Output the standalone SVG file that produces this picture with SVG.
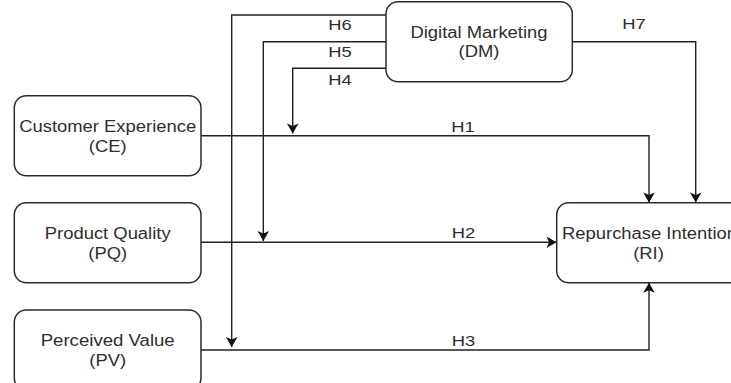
<svg xmlns="http://www.w3.org/2000/svg" width="731" height="383" viewBox="0 0 731 383">
  <style>
    .box { fill: #ffffff; stroke: #2b2b2b; stroke-width: 1.5; }
    .lbl { font-family: "Liberation Sans", Arial, sans-serif; font-size: 16px; fill: #2e2e2e; text-anchor: middle; }
    .hyp { font-family: "Liberation Sans", Arial, sans-serif; font-size: 15.5px; fill: #2e2e2e; text-anchor: middle; }
    .edge { fill: none; stroke: #222222; stroke-width: 1.4; }
  </style>
  <defs>
    <marker id="arrow" viewBox="-11 -7 12 14" refX="0" refY="0" markerWidth="12" markerHeight="14" markerUnits="userSpaceOnUse" orient="auto">
      <path d="M0,0 L-10,-5.8 L-7.5,0 L-10,5.8 Z" fill="#111111"/>
    </marker>
  </defs>
  <rect width="731" height="383" fill="#ffffff"/>

  <!-- connectors -->
  <g id="connectors">
    <!-- H1: CE -> RI -->
    <path class="edge" d="M201,135.7 H649 V202.5" marker-end="url(#arrow)"/>
    <!-- H2: PQ -> RI -->
    <path class="edge" d="M201,242.3 H556.5" marker-end="url(#arrow)"/>
    <!-- H3: PV -> RI -->
    <path class="edge" d="M201,350 H649 V282.8" marker-end="url(#arrow)"/>
    <!-- H4: DM moderates CE path -->
    <path class="edge" d="M386,68.3 H292.7 V133.5" marker-end="url(#arrow)"/>
    <!-- H5: DM moderates PQ path -->
    <path class="edge" d="M386,41.7 H263.3 V241" marker-end="url(#arrow)"/>
    <!-- H6: DM moderates PV path -->
    <path class="edge" d="M386,15 H231.7 V347" marker-end="url(#arrow)"/>
    <!-- H7: DM -> RI -->
    <path class="edge" d="M572.3,41.7 H695.7 V202.5" marker-end="url(#arrow)"/>

    <text class="hyp" x="340" y="30" textLength="23.5" lengthAdjust="spacingAndGlyphs">H6</text>
    <text class="hyp" x="340" y="56.5" textLength="23.5" lengthAdjust="spacingAndGlyphs">H5</text>
    <text class="hyp" x="340" y="85" textLength="23.5" lengthAdjust="spacingAndGlyphs">H4</text>
    <text class="hyp" x="634" y="29" textLength="23.5" lengthAdjust="spacingAndGlyphs">H7</text>
    <text class="hyp" x="463" y="132" textLength="23.5" lengthAdjust="spacingAndGlyphs">H1</text>
    <text class="hyp" x="463.5" y="237.7" textLength="23.5" lengthAdjust="spacingAndGlyphs">H2</text>
    <text class="hyp" x="463.5" y="346" textLength="23.5" lengthAdjust="spacingAndGlyphs">H3</text>
  </g>

  <g id="node-dm">
    <rect class="box" x="386" y="1.7" width="186.3" height="80" rx="12"/>
    <text class="lbl" x="479" y="37.7" textLength="137" lengthAdjust="spacingAndGlyphs">Digital Marketing</text>
    <text class="lbl" x="479" y="57" textLength="40.9" lengthAdjust="spacingAndGlyphs">(DM)</text>
  </g>

  <g id="node-ce">
    <rect class="box" x="14.3" y="95.7" width="186.7" height="80" rx="12"/>
    <text class="lbl" x="107.7" y="132" textLength="177" lengthAdjust="spacingAndGlyphs">Customer Experience</text>
    <text class="lbl" x="107.7" y="151.5" textLength="37.8" lengthAdjust="spacingAndGlyphs">(CE)</text>
  </g>

  <g id="node-pq">
    <rect class="box" x="14.3" y="202.7" width="186.7" height="80" rx="12"/>
    <text class="lbl" x="107.7" y="239.3" textLength="125.8" lengthAdjust="spacingAndGlyphs">Product Quality</text>
    <text class="lbl" x="107.7" y="258.5" textLength="38.8" lengthAdjust="spacingAndGlyphs">(PQ)</text>
  </g>

  <g id="node-pv">
    <rect class="box" x="14.3" y="310" width="186.7" height="80" rx="12"/>
    <text class="lbl" x="107.7" y="346" textLength="134" lengthAdjust="spacingAndGlyphs">Perceived Value</text>
    <text class="lbl" x="107.7" y="365.5" textLength="36.8" lengthAdjust="spacingAndGlyphs">(PV)</text>
  </g>

  <g id="node-ri">
    <rect class="box" x="556.7" y="202.7" width="186" height="80" rx="12"/>
    <text class="lbl" x="649.5" y="239.3" textLength="175" lengthAdjust="spacingAndGlyphs">Repurchase Intention</text>
    <text class="lbl" x="648.5" y="258.5" textLength="30.7" lengthAdjust="spacingAndGlyphs">(RI)</text>
  </g>
</svg>
